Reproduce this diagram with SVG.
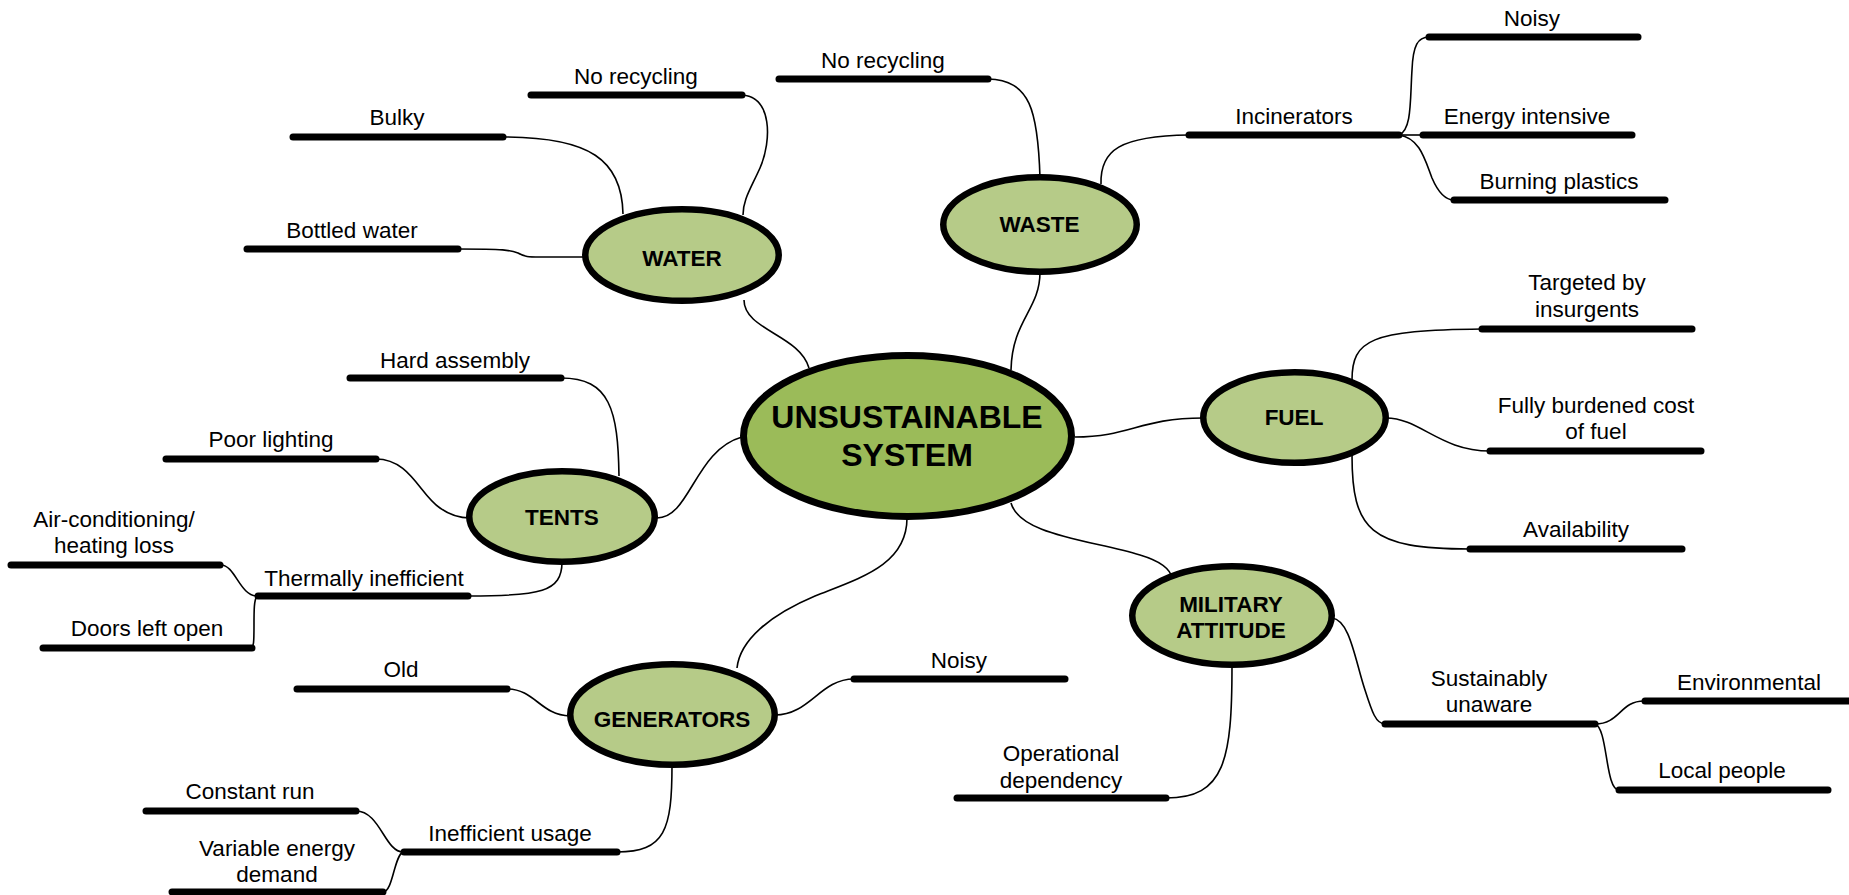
<svg xmlns="http://www.w3.org/2000/svg" width="1849" height="895" viewBox="0 0 1849 895">
<style>
.lbl{font-family:"Liberation Sans",Arial,sans-serif;font-size:22.5px;fill:#000;text-anchor:middle}
.nlbl{font-family:"Liberation Sans",Arial,sans-serif;font-size:22.5px;font-weight:bold;fill:#000;text-anchor:middle}
.clbl{font-family:"Liberation Sans",Arial,sans-serif;font-size:32px;font-weight:bold;fill:#000;text-anchor:middle}
.bar{stroke:#000;stroke-width:7;stroke-linecap:round;fill:none}
.con{stroke:#000;stroke-width:1.6;fill:none}
.sub{fill:#B6CB88;stroke:#000;stroke-width:6.5}
.core{fill:#9BBB59;stroke:#000;stroke-width:7}
</style>
<rect width="1849" height="895" fill="#fff"/>
<g id="connectors">
<!-- water -->
<path class="con" d="M742,95 C772,97 772,140 760,168 C750,190 743,200 743,215"/>
<path class="con" d="M503,137 C590,137 622,160 623,214"/>
<path class="con" d="M458,249 C505,249 510,250 518,253 C525,257 528,257 540,257 L586,257"/>
<path class="con" d="M744,300 C744,330 800,335 809,368"/>
<!-- waste -->
<path class="con" d="M988,79 C1030,80 1038,110 1040,178"/>
<path class="con" d="M1101,184 C1100,150 1120,136 1189,135"/>
<path class="con" d="M1399,135 C1412,130 1410,100 1412,70 C1413,45 1418,37 1429,37"/>
<path class="con" d="M1399,135 L1423,135"/>
<path class="con" d="M1399,135 C1420,138 1425,160 1432,178 C1438,192 1445,200 1454,200"/>
<path class="con" d="M1040,272 C1040,310 1012,320 1011,370"/>
<!-- fuel -->
<path class="con" d="M1075,437 C1130,437 1140,418 1203,418"/>
<path class="con" d="M1352,380 C1352,340 1370,330 1482,329"/>
<path class="con" d="M1386,418 C1420,418 1440,451 1490,451"/>
<path class="con" d="M1352,455 C1352,530 1370,549 1470,549"/>
<!-- tents -->
<path class="con" d="M657,518 C690,518 695,450 742,437"/>
<path class="con" d="M561,378 C610,378 618,410 619,476"/>
<path class="con" d="M376,459 C410,459 420,495 440,508 C450,515 458,518 470,518"/>
<path class="con" d="M562,562 C562,592 540,596 469,596"/>
<path class="con" d="M221,565 C235,565 240,596 257,596"/>
<path class="con" d="M257,596 C254,600 254,610 254,625 C254,642 254,648 250,648"/>
<!-- generators -->
<path class="con" d="M907,518 C907,565 860,578 815,596 C770,615 740,640 737,668"/>
<path class="con" d="M507,689 C535,689 540,715 570,716"/>
<path class="con" d="M775,715 C810,715 820,679 854,679"/>
<path class="con" d="M672,765 C672,830 665,852 617,852"/>
<path class="con" d="M356,811 C380,811 385,852 403,852"/>
<path class="con" d="M403,852 C394,856 393,892 383,892"/>
<!-- military -->
<path class="con" d="M1011,503 C1020,535 1090,540 1140,555 C1160,561 1170,568 1172,578"/>
<path class="con" d="M1232,665 C1232,760 1225,798 1166,798"/>
<path class="con" d="M1332,618 C1350,620 1355,660 1365,690 C1372,712 1376,724 1385,724"/>
<path class="con" d="M1595,724 C1620,724 1620,701 1644,701"/>
<path class="con" d="M1595,724 C1608,728 1605,790 1619,790"/>
</g>
<g id="center">
<ellipse class="core" cx="907.5" cy="436" rx="164" ry="80.5"/>
<text class="clbl" x="907" y="428">UNSUSTAINABLE</text>
<text class="clbl" x="907" y="466">SYSTEM</text>
</g>
<g id="water">
<ellipse class="sub" cx="682" cy="255" rx="96.75" ry="45.75"/>
<text class="nlbl" x="682" y="266">WATER</text>
</g>
<g id="waste">
<ellipse class="sub" cx="1040" cy="224.5" rx="96.75" ry="47.25"/>
<text class="nlbl" x="1039.5" y="232">WASTE</text>
</g>
<g id="fuel">
<ellipse class="sub" cx="1294.5" cy="417.5" rx="91.25" ry="45.25"/>
<text class="nlbl" x="1294" y="425">FUEL</text>
</g>
<g id="tents">
<ellipse class="sub" cx="562" cy="516.5" rx="92.75" ry="45.25"/>
<text class="nlbl" x="562" y="525">TENTS</text>
</g>
<g id="generators">
<ellipse class="sub" cx="672.5" cy="714.5" rx="102.25" ry="50.25"/>
<text class="nlbl" x="672" y="727">GENERATORS</text>
</g>
<g id="military">
<ellipse class="sub" cx="1232" cy="615.5" rx="99.75" ry="49.25"/>
<text class="nlbl" x="1231" y="612">MILITARY</text>
<text class="nlbl" x="1231" y="638">ATTITUDE</text>
</g>
<g id="water-no-recycling"><line class="bar" x1="531" y1="95" x2="742" y2="95"/><text class="lbl" x="636" y="84">No recycling</text></g>
<g id="water-bulky"><line class="bar" x1="293" y1="137" x2="503" y2="137"/><text class="lbl" x="397" y="125">Bulky</text></g>
<g id="water-bottled"><line class="bar" x1="247" y1="249" x2="458" y2="249"/><text class="lbl" x="352" y="238">Bottled water</text></g>
<g id="waste-no-recycling"><line class="bar" x1="779" y1="79" x2="988" y2="79"/><text class="lbl" x="883" y="68">No recycling</text></g>
<g id="waste-incinerators"><line class="bar" x1="1189" y1="135" x2="1399" y2="135"/><text class="lbl" x="1294" y="124">Incinerators</text></g>
<g id="inc-noisy"><line class="bar" x1="1429" y1="37" x2="1638" y2="37"/><text class="lbl" x="1532" y="26">Noisy</text></g>
<g id="inc-energy"><line class="bar" x1="1423" y1="135" x2="1632" y2="135"/><text class="lbl" x="1527" y="124">Energy intensive</text></g>
<g id="inc-burning"><line class="bar" x1="1454" y1="200" x2="1665" y2="200"/><text class="lbl" x="1559" y="189">Burning plastics</text></g>
<g id="fuel-targeted"><line class="bar" x1="1482" y1="329" x2="1692" y2="329"/><text class="lbl" x="1587" y="290">Targeted by</text><text class="lbl" x="1587" y="317">insurgents</text></g>
<g id="fuel-cost"><line class="bar" x1="1490" y1="451" x2="1701" y2="451"/><text class="lbl" x="1596" y="413">Fully burdened cost</text><text class="lbl" x="1596" y="439">of fuel</text></g>
<g id="fuel-availability"><line class="bar" x1="1470" y1="549" x2="1682" y2="549"/><text class="lbl" x="1576" y="537">Availability</text></g>
<g id="tents-hard"><line class="bar" x1="350" y1="378" x2="561" y2="378"/><text class="lbl" x="455" y="368">Hard assembly</text></g>
<g id="tents-lighting"><line class="bar" x1="166" y1="459" x2="376" y2="459"/><text class="lbl" x="271" y="447">Poor lighting</text></g>
<g id="tents-thermal"><line class="bar" x1="258" y1="596" x2="468" y2="596"/><text class="lbl" x="364" y="586">Thermally inefficient</text></g>
<g id="thermal-ac"><line class="bar" x1="11" y1="565" x2="220" y2="565"/><text class="lbl" x="114" y="527">Air-conditioning/</text><text class="lbl" x="114" y="553">heating loss</text></g>
<g id="thermal-doors"><line class="bar" x1="43" y1="648" x2="252" y2="648"/><text class="lbl" x="147" y="636">Doors left open</text></g>
<g id="gen-old"><line class="bar" x1="297" y1="689" x2="507" y2="689"/><text class="lbl" x="401" y="677">Old</text></g>
<g id="gen-noisy"><line class="bar" x1="854" y1="679" x2="1065" y2="679"/><text class="lbl" x="959" y="668">Noisy</text></g>
<g id="gen-inefficient"><line class="bar" x1="404" y1="852" x2="617" y2="852"/><text class="lbl" x="510" y="841">Inefficient usage</text></g>
<g id="ineff-constant"><line class="bar" x1="146" y1="811" x2="356" y2="811"/><text class="lbl" x="250" y="799">Constant run</text></g>
<g id="ineff-variable"><line class="bar" x1="172" y1="892" x2="383" y2="892"/><text class="lbl" x="277" y="856">Variable energy</text><text class="lbl" x="277" y="882">demand</text></g>
<g id="mil-operational"><line class="bar" x1="957" y1="798" x2="1166" y2="798"/><text class="lbl" x="1061" y="761">Operational</text><text class="lbl" x="1061" y="788">dependency</text></g>
<g id="mil-unaware"><line class="bar" x1="1385" y1="724" x2="1595" y2="724"/><text class="lbl" x="1489" y="686">Sustainably</text><text class="lbl" x="1489" y="712">unaware</text></g>
<g id="unaware-env"><line class="bar" x1="1645" y1="701" x2="1856" y2="701"/><text class="lbl" x="1749" y="690">Environmental</text></g>
<g id="unaware-local"><line class="bar" x1="1619" y1="790" x2="1828" y2="790"/><text class="lbl" x="1722" y="778">Local people</text></g>
</svg>
